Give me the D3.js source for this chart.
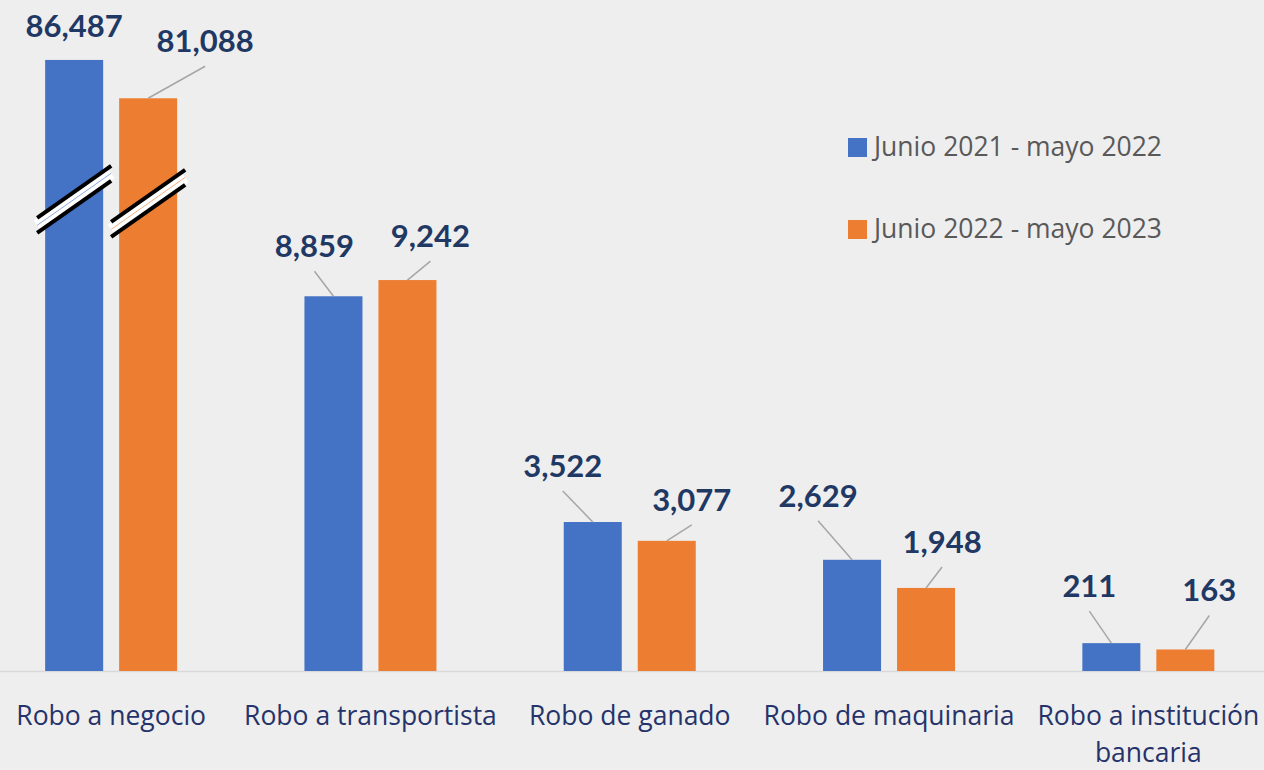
<!DOCTYPE html>
<html>
<head>
  <meta charset="UTF-8">
  <title>Robos</title>
  <style>
    body { margin: 0; background-color: #eeeeee; }
    svg { display: block; }
    .value { font-family: Lato, sans-serif; font-weight: bold; font-size: 31px; fill: #1f3864; }
    .cat { font-family: "Open Sans", sans-serif; font-size: 26.5px; fill: #26336a; }
    .legend text { font-family: "Open Sans", sans-serif; font-size: 26.5px; fill: #595959; }
  </style>
</head>
<body>
  <svg></svg>
  <script src="https://d3js.org/d3.v7.min.js"></script>
  <script>
    // data
    let categories = ["Robo a negocio", "Robo a transportista", "Robo de ganado", "Robo de maquinaria", "Robo a institución bancaria"];
    let seriesNames = ["Junio 2021 - mayo 2022", "Junio 2022 - mayo 2023"];
    let values2122 = [86487, 8859, 3522, 2629, 211];
    let values2223 = [81088, 9242, 3077, 1948, 163];
    let colors = ["#4472c4", "#ed7d31"];

    // label placement (dx, dy from the bar top centre), one per bar
    let labelOffsets = [
      [[0, -23], [-19, -39], [-30, -45], [-34, -53], [-22, -46]],
      [[57, -46], [23, -33], [25, -30], [16, -35], [24, -48]]
    ];

    let width = 1264, height = 770;
    let baseline = 671;
    let svg = d3.select("svg").attr("width", width).attr("height", height);

    svg.append("rect").attr("width", width).attr("height", height).attr("fill", "#eeeeee");

    // x scales
    let x0 = d3.scaleBand().domain(categories).range([-18.5, 1278]).padding(0);
    let x1 = d3.scaleBand().domain([0, 1]).range([0, 132]).paddingInner(0.216);
    let groupLeft = c => x0(c) + x0.bandwidth() / 2 - 66;

    // broken y axis: piecewise linear scale (small values stretched, big ones compressed)
    let y = d3.scaleLinear()
      .domain([0, 250, 2000, 10000, 80000, 90000])
      .range([0, 33, 84.6, 423, 565, 636].map(h => baseline - h));

    // baseline
    svg.append("line")
      .attr("x1", 0).attr("x2", width)
      .attr("y1", baseline + 0.5).attr("y2", baseline + 0.5)
      .attr("stroke", "#d9d9d9").attr("stroke-width", 1.5);

    let series = [values2122, values2223];
    series.forEach((vals, s) => {
      let pts = vals.map((v, i) => ({
        v: v,
        i: i,
        cx: groupLeft(categories[i]) + x1(s) + x1.bandwidth() / 2,
        off: labelOffsets[s][i]
      }));
      let g = svg.append("g");
      g.selectAll("rect")
        .data(pts)
        .enter()
        .append("rect")
        .attr("x", d => d.cx - x1.bandwidth() / 2)
        .attr("y", d => y(d.v))
        .attr("width", x1.bandwidth())
        .attr("height", d => baseline - y(d.v))
        .attr("fill", colors[s]);

      // leader lines (none for the first blue label, it sits right on the bar)
      g.selectAll("line.leader")
        .data(pts.filter(d => !(s === 0 && d.i === 0)))
        .enter()
        .append("line")
        .attr("class", "leader")
        .attr("x1", d => d.cx + d.off[0])
        .attr("y1", d => y(d.v) + d.off[1] + 14)
        .attr("x2", d => d.cx)
        .attr("y2", d => y(d.v))
        .attr("stroke", "#a6a6a6")
        .attr("stroke-width", 1.5);

      g.selectAll("text")
        .data(pts)
        .enter()
        .append("text")
        .attr("class", "value")
        .attr("text-anchor", "middle")
        .attr("x", d => d.cx + d.off[0])
        .attr("y", d => y(d.v) + d.off[1])
        .text(d => d3.format(",")(d.v));
    });

    // axis break marks on the first group
    let breakAt = [34000, 32000];
    breakAt.forEach((v, s) => {
      let cx = groupLeft(categories[0]) + x1(s) + x1.bandwidth() / 2;
      let cy = y(v);
      let dx = 37, dy = 26;
      let mk = svg.append("g");
      mk.append("line")
        .attr("x1", cx - dx).attr("y1", cy + dy).attr("x2", cx + dx).attr("y2", cy - dy)
        .attr("stroke", "#ffffff").attr("stroke-width", 12);
      mk.append("line")
        .attr("x1", cx - dx).attr("y1", cy + dy).attr("x2", cx + dx).attr("y2", cy - dy)
        .attr("stroke", colors[s]).attr("stroke-width", 1).attr("opacity", 0.6);
      [-7.5, 7.5].forEach(o => {
        mk.append("line")
          .attr("x1", cx - dx).attr("y1", cy + dy + o).attr("x2", cx + dx).attr("y2", cy - dy + o)
          .attr("stroke", "#000000").attr("stroke-width", 4);
      });
    });

    // category labels
    let catText = svg.append("g").selectAll("text")
      .data(categories)
      .enter()
      .append("text")
      .attr("class", "cat")
      .attr("text-anchor", "middle")
      .attr("x", d => x0(d) + x0.bandwidth() / 2)
      .attr("y", 725);
    catText.each(function(d) {
      let lines = d === "Robo a institución bancaria" ? ["Robo a institución", "bancaria"] : [d];
      let t = d3.select(this);
      lines.forEach((l, k) => {
        t.append("tspan")
          .attr("x", x0(d) + x0.bandwidth() / 2)
          .attr("dy", k === 0 ? 0 : 37)
          .text(l);
      });
    });

    // legend
    let legend = svg.append("g").attr("class", "legend");
    seriesNames.forEach((n, s) => {
      let ly = 138 + s * 82;
      legend.append("rect")
        .attr("x", 848).attr("y", ly)
        .attr("width", 19).attr("height", 19)
        .attr("fill", colors[s]);
      legend.append("text")
        .attr("x", 874).attr("y", ly + 18)
        .text(n);
    });
  </script>
</body>
</html>
